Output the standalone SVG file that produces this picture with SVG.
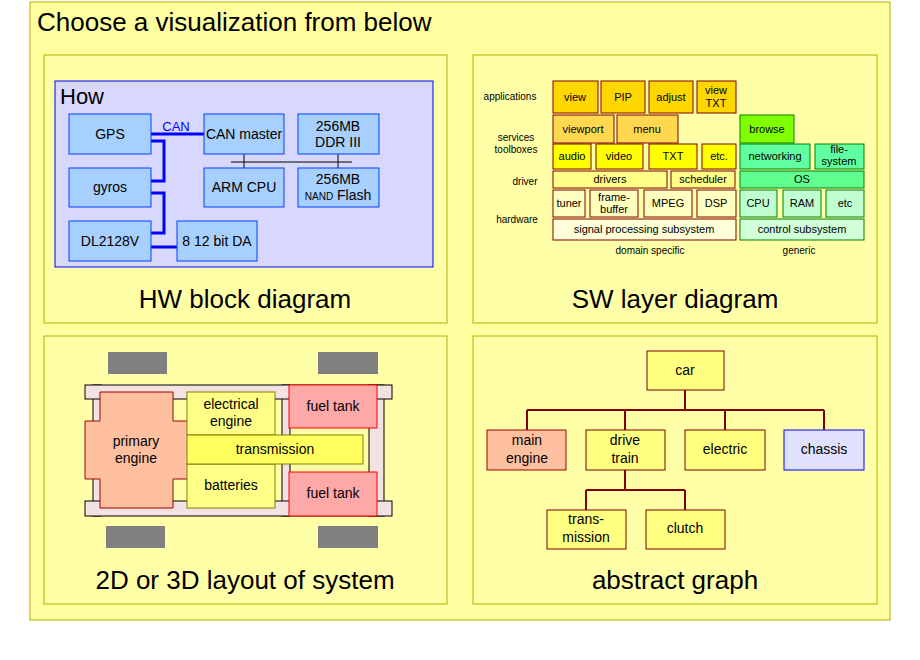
<svg xmlns="http://www.w3.org/2000/svg" width="920" height="660" viewBox="0 0 920 660">
<style>
text{font-family:"Liberation Sans",Arial,sans-serif;fill:#000;text-anchor:middle}
.cap{font-size:26px}
.panel{fill:#ffffa8;stroke:#b0b000;stroke-width:1}
.hw{fill:#a8d0ff;stroke:#0040ff;stroke-width:1}
.hwt{font-size:14px}
.sw{stroke:#800000;stroke-width:1}
.swg{stroke:#008000;stroke-width:1}
.s11{font-size:11px}
.lbl{font-size:10px}
.bl{stroke:#0000ff;stroke-width:3;fill:none}
.g{fill:#ffff80;stroke:#800000;stroke-width:1}
.gt{font-size:14px}
.wheel{fill:#808080}
.frame{fill:#f2e2e2;stroke:#000;stroke-width:1}
.yel{fill:#ffff88;stroke:#808000;stroke-width:1}
.tank{fill:#ffa8a8;stroke:#ff0000;stroke-width:1}
.lt{font-size:14px}
</style>
<rect x="0" y="0" width="920" height="660" fill="#fff"/>
<rect x="30" y="2" width="860" height="618" fill="#ffffa0" stroke="#b0b000"/>
<text x="37" y="31" style="font-size:26px;text-anchor:start">Choose a visualization from below</text>
<rect class="panel" x="44" y="55" width="403" height="268"/>
<rect class="panel" x="473" y="55" width="404" height="268"/>
<rect class="panel" x="44" y="336" width="403" height="268"/>
<rect class="panel" x="473" y="336" width="404" height="268"/>
<text class="cap" x="245" y="308">HW block diagram</text>
<text class="cap" x="675" y="308">SW layer diagram</text>
<text class="cap" x="245" y="589">2D or 3D layout of system</text>
<text class="cap" x="675" y="589">abstract graph</text>

<!-- HW block -->
<g id="hw">
<rect x="55" y="81" width="378" height="186" fill="#d8d8ff" stroke="#0000ff"/>
<text x="60" y="104" style="font-size:22px;text-anchor:start">How</text>
<g id="connectors">
<path class="bl" d="M151 134H204M151 141H164V181H151M151 193H164V233H151M151 247H177"/>
<path d="M231 162H352M244 154V168M338 154V168" stroke="#000" stroke-width="1" fill="none"/>
</g>
<text x="176" y="131" style="font-size:13px;fill:#0000ff">CAN</text>
<g id="gps"><rect class="hw" x="69" y="114" width="82" height="40"/><text class="hwt" x="110" y="139">GPS</text></g>
<g id="gyros"><rect class="hw" x="69" y="168" width="82" height="39"/><text class="hwt" x="110" y="192">gyros</text></g>
<g id="dl"><rect class="hw" x="69" y="221" width="82" height="40"/><text class="hwt" x="110" y="246">DL2128V</text></g>
<g id="canm"><rect class="hw" x="204" y="114" width="80" height="40"/><text class="hwt" x="244" y="139">CAN master</text></g>
<g id="ddr"><rect class="hw" x="298" y="114" width="81" height="40"/><text class="hwt" x="338" y="131">256MB</text><text class="hwt" x="338" y="147">DDR III</text></g>
<g id="arm"><rect class="hw" x="204" y="168" width="80" height="39"/><text class="hwt" x="244" y="192">ARM CPU</text></g>
<g id="nand"><rect class="hw" x="298" y="168" width="81" height="39"/><text class="hwt" x="338" y="184">256MB</text><text class="hwt" x="338" y="200"><tspan style="font-size:10px">NAND</tspan> Flash</text></g>
<g id="da"><rect class="hw" x="177" y="221" width="80" height="40"/><text class="hwt" x="217" y="246">8 12 bit DA</text></g>
</g>

<!-- SW layers -->
<g id="sw">
<text class="lbl" x="510" y="100">applications</text>
<text class="lbl" x="516" y="141">services</text>
<text class="lbl" x="516" y="153">toolboxes</text>
<text class="lbl" x="525" y="185">driver</text>
<text class="lbl" x="517" y="223">hardware</text>
<text class="lbl" x="650" y="254">domain specific</text>
<text class="lbl" x="799" y="254">generic</text>
<g fill="#ffd700">
<rect class="sw" x="553" y="81" width="45" height="32"/><rect class="sw" x="601" y="81" width="44" height="32"/>
<rect class="sw" x="649" y="81" width="44" height="32"/><rect class="sw" x="697" y="81" width="39" height="32"/>
</g>
<text class="s11" x="575" y="101">view</text><text class="s11" x="623" y="101">PIP</text><text class="s11" x="671" y="101">adjust</text>
<text class="s11" x="716" y="94">view</text><text class="s11" x="716" y="107">TXT</text>
<g fill="#ffd850"><rect class="sw" x="553" y="115" width="61" height="28"/><rect class="sw" x="617" y="115" width="61" height="28"/></g>
<text class="s11" x="583" y="133">viewport</text><text class="s11" x="647" y="133">menu</text>
<rect class="swg" x="740" y="115" width="54" height="28" fill="#80ff00"/><text class="s11" x="767" y="133">browse</text>
<g fill="#ffff00">
<rect class="sw" x="553" y="144" width="38" height="25"/><rect class="sw" x="596" y="144" width="47" height="25"/>
<rect class="sw" x="649" y="144" width="48" height="25"/><rect class="sw" x="702" y="144" width="34" height="25"/>
</g>
<text class="s11" x="572" y="160">audio</text><text class="s11" x="619" y="160">video</text><text class="s11" x="673" y="160">TXT</text><text class="s11" x="719" y="160">etc.</text>
<g fill="#60ffa0"><rect class="swg" x="740" y="144" width="70" height="25"/><rect class="swg" x="815" y="144" width="49" height="25"/></g>
<text class="s11" x="775" y="160">networking</text><text class="s11" x="839" y="153">file-</text><text class="s11" x="839" y="165">system</text>
<g fill="#ffff88"><rect class="sw" x="553" y="171" width="114" height="17"/><rect class="sw" x="671" y="171" width="64" height="17"/></g>
<text class="s11" x="610" y="183">drivers</text><text class="s11" x="703" y="183">scheduler</text>
<rect class="swg" x="740" y="171" width="124" height="17" fill="#60ff90"/><text class="s11" x="802" y="183">OS</text>
<g fill="#ffffc0">
<rect class="sw" x="553" y="190" width="32" height="27"/><rect class="sw" x="590" y="190" width="48" height="27"/>
<rect class="sw" x="644" y="190" width="48" height="27"/><rect class="sw" x="697" y="190" width="39" height="27"/>
</g>
<text class="s11" x="569" y="207">tuner</text><text class="s11" x="614" y="201">frame-</text><text class="s11" x="614" y="213">buffer</text>
<text class="s11" x="668" y="207">MPEG</text><text class="s11" x="716" y="207">DSP</text>
<g fill="#c0ffd0">
<rect class="swg" x="740" y="190" width="37" height="27"/><rect class="swg" x="783" y="190" width="38" height="27"/><rect class="swg" x="826" y="190" width="38" height="27"/>
</g>
<text class="s11" x="758" y="207">CPU</text><text class="s11" x="802" y="207">RAM</text><text class="s11" x="845" y="207">etc</text>
<rect class="sw" x="553" y="219" width="183" height="21" fill="#ffffd8"/><text class="s11" x="644" y="233">signal processing subsystem</text>
<rect class="swg" x="740" y="219" width="124" height="21" fill="#d0ffd8"/><text class="s11" x="802" y="233">control subsystem</text>
</g>

<!-- layout -->
<g id="layout">
<rect class="wheel" x="108" y="352" width="59" height="22"/><rect class="wheel" x="318" y="352" width="60" height="22"/>
<rect class="wheel" x="106" y="526" width="59" height="22"/><rect class="wheel" x="318" y="526" width="60" height="22"/>
<rect class="frame" x="93" y="385" width="8" height="131"/><rect class="frame" x="282" y="385" width="8" height="131"/><rect class="frame" x="369" y="385" width="15" height="131"/>
<rect class="frame" x="85" y="385" width="307" height="14"/><rect class="frame" x="85" y="501" width="307" height="15"/>
<path d="M100 392H173V421H188V479H173V508H100V479H85V421H100Z" fill="#ffc0a0" stroke="#a00000"/>
<text class="lt" x="136" y="446">primary</text><text class="lt" x="136" y="463">engine</text>
<rect class="yel" x="187" y="392" width="88" height="43"/><text class="lt" x="231" y="409">electrical</text><text class="lt" x="231" y="426">engine</text>
<rect class="yel" x="187" y="464" width="88" height="44"/><text class="lt" x="231" y="490">batteries</text>
<rect x="187" y="435" width="176" height="29" fill="#ffff60" stroke="#808000"/><text class="lt" x="275" y="454">transmission</text>
<rect class="tank" x="289" y="385" width="88" height="43"/><text class="lt" x="333" y="411">fuel tank</text>
<rect class="tank" x="289" y="472" width="88" height="44"/><text class="lt" x="333" y="498">fuel tank</text>
</g>

<!-- graph -->
<g id="graph-connectors" fill="none" stroke="#800000" stroke-width="2">
<path d="M685 390V410M527 410H824M527 410V430M625 410V430M725 410V430M824 410V430M625 470V490M586 490H685M586 490V510M685 490V510"/>
</g>
<g id="car"><rect class="g" x="647" y="351" width="77" height="39" fill="#ffff00"/><text class="gt" x="685" y="375">car</text></g>
<g id="main"><rect x="487" y="430" width="79" height="40" fill="#ffc0a0" stroke="#a00000"/><text class="gt" x="527" y="445">main</text><text class="gt" x="527" y="463">engine</text></g>
<g id="drive"><rect class="g" x="586" y="430" width="79" height="40"/><text class="gt" x="625" y="445">drive</text><text class="gt" x="625" y="463">train</text></g>
<g id="electric"><rect class="g" x="685" y="430" width="80" height="40"/><text class="gt" x="725" y="454">electric</text></g>
<g id="chassis"><rect x="784" y="430" width="80" height="40" fill="#e0e0ff" stroke="#0000ff"/><text class="gt" x="824" y="454">chassis</text></g>
<g id="trans"><rect class="g" x="547" y="510" width="79" height="39"/><text class="gt" x="586" y="524">trans-</text><text class="gt" x="586" y="542">mission</text></g>
<g id="clutch"><rect class="g" x="646" y="510" width="79" height="39"/><text class="gt" x="685" y="533">clutch</text></g>
</svg>
